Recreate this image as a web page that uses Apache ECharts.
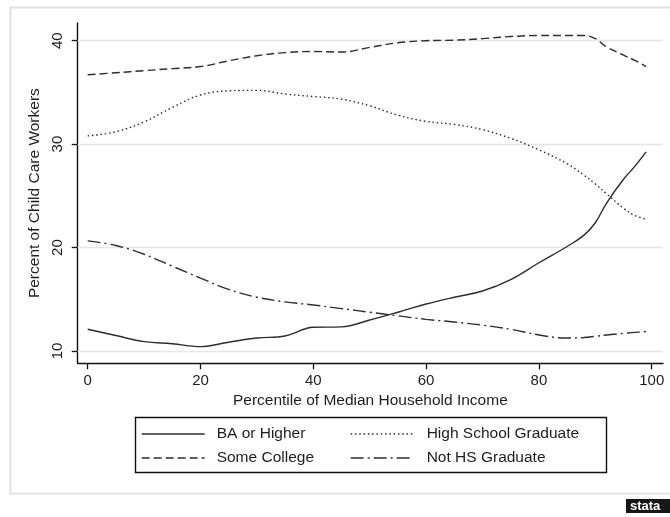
<!DOCTYPE html>
<html>
<head>
<meta charset="utf-8">
<script src="https://cdn.jsdelivr.net/npm/echarts@6/dist/echarts.min.js"></script>
<style>
  html, body { margin: 0; padding: 0; background: #ffffff; }
  #chart { width: 670px; height: 517px; }
</style>
</head>
<body>
<div id="chart"></div>
<script>
// Smoothed share of child care workers by education, across income percentiles
const percentiles = [0, 5, 10, 15, 20, 25, 30, 35, 40, 45, 50, 55, 60, 65, 70, 75, 80, 85, 88, 90, 92, 95, 97, 99];

const baOrHigher   = [12.1, 11.5, 10.9, 10.7, 10.42, 10.85, 11.25, 11.45, 12.29, 12.33, 13.0, 13.75, 14.54, 15.2, 15.8, 16.9, 18.53, 20.1, 21.2, 22.4, 24.3, 26.6, 27.85, 29.25];
const someCollege  = [36.7, 36.9, 37.1, 37.3, 37.5, 38.05, 38.55, 38.85, 38.95, 38.9, 39.35, 39.8, 40.0, 40.05, 40.2, 40.4, 40.5, 40.5, 40.5, 40.2, 39.4, 38.6, 38.1, 37.5];
const hsGraduate   = [30.8, 31.2, 32.15, 33.55, 34.75, 35.15, 35.2, 34.85, 34.6, 34.35, 33.7, 32.8, 32.2, 31.9, 31.4, 30.55, 29.45, 28.1, 27.0, 26.15, 25.2, 23.8, 23.1, 22.75];
const notHsGrad    = [20.65, 20.2, 19.35, 18.2, 17.05, 15.95, 15.2, 14.75, 14.45, 14.1, 13.75, 13.4, 13.06, 12.8, 12.5, 12.1, 11.55, 11.25, 11.3, 11.42, 11.55, 11.7, 11.8, 11.88];

const seriesNames = ['BA or Higher', 'High School Graduate', 'Some College', 'Not HS Graduate'];
const xTicks = [0, 20, 40, 60, 80, 100];
const yTicks = [10, 20, 30, 40];

const FONT = '"Liberation Sans", Arial, sans-serif';
const INK = '#1e1e1e';
const LINE = '#2e2e2e';

function pairs(values) {
  return percentiles.map((p, i) => [p, values[i]]);
}

function lineSeries(name, values, type) {
  return {
    name: name,
    type: 'line',
    data: pairs(values),
    showSymbol: false,
    symbol: 'none',
    smooth: 0.4,
    z: 3,
    lineStyle: { color: LINE, width: 1.4, type: type },
    itemStyle: { color: LINE },
    emphasis: { disabled: true }
  };
}

// two legend columns share the same look
function legendColumn(names, left, textGap) {
  return {
    data: names,
    orient: 'vertical',
    left: left,
    top: 426,
    padding: 0,
    itemWidth: 63,
    itemHeight: 14,
    itemGap: 8,
    selectedMode: false,
    itemStyle: { opacity: 0, borderWidth: 0 },
    lineStyle: { width: 1.3 },
    textStyle: { fontFamily: FONT, fontSize: 15.5, color: INK, lineHeight: 14, padding: [0, 0, 0, textGap] }
  };
}

const chart = echarts.init(document.getElementById('chart'), null, { renderer: 'canvas' });

chart.setOption({
  animation: false,
  backgroundColor: '#ffffff',
  textStyle: { fontFamily: FONT },
  grid: { left: 77.7, right: 7, top: 23, bottom: 153.7, containLabel: false },
  xAxis: {
    type: 'value',
    min: -1.77,
    max: 102,
    name: 'Percentile of Median Household Income',
    nameLocation: 'middle',
    nameGap: 23,
    nameTextStyle: { fontFamily: FONT, fontSize: 15.5, color: INK, verticalAlign: 'top' },
    axisLine: { onZero: false, lineStyle: { color: '#111', width: 1.4 } },
    axisTick: { show: true, length: 6, customValues: xTicks, lineStyle: { color: '#111', width: 1.3 } },
    axisLabel: { customValues: xTicks, margin: 10, fontFamily: FONT, fontSize: 15, color: INK },
    splitLine: { show: false }
  },
  yAxis: {
    type: 'value',
    min: 8.81,
    max: 41.71,
    name: 'Percent of Child Care Workers',
    nameLocation: 'middle',
    nameGap: 28,
    nameTextStyle: { fontFamily: FONT, fontSize: 15.5, color: INK },
    axisLine: { show: true, onZero: false, lineStyle: { color: '#111', width: 1.4 } },
    axisTick: { show: true, length: 6, customValues: yTicks, lineStyle: { color: '#111', width: 1.3 } },
    axisLabel: { customValues: yTicks, rotate: 90, margin: 12, fontFamily: FONT, fontSize: 15, color: INK },
    splitLine: { show: false }
  },
  legend: [
    legendColumn([seriesNames[0], seriesNames[2]], 141, 7),
    legendColumn([seriesNames[1], seriesNames[3]], 350, 8)
  ],
  graphic: [
    {
      type: 'rect',
      silent: true,
      z: -10,
      shape: { x: 10.5, y: 7.5, width: 700, height: 486 },
      style: { fill: 'none', stroke: '#e2e2e2', lineWidth: 2 }
    },
    {
      type: 'rect',
      silent: true,
      shape: { x: 135.5, y: 417.5, width: 471, height: 55 },
      style: { fill: 'none', stroke: '#111', lineWidth: 1.4 }
    },
    {
      type: 'group',
      left: 626,
      top: 499,
      silent: true,
      children: [
        { type: 'rect', shape: { x: 0, y: 0, width: 50, height: 14 }, style: { fill: '#161616' } },
        { type: 'text', x: 4, y: 1, style: { text: 'stata', fill: '#ffffff', font: 'bold 13px "Liberation Sans", Arial, sans-serif' } }
      ]
    }
  ],
  series: [
    Object.assign(lineSeries(seriesNames[0], baOrHigher, 'solid'), {
      markLine: {
        silent: true,
        z: 1,
        symbol: ['none', 'none'],
        label: { show: false },
        emphasis: { disabled: true },
        lineStyle: { color: '#e6e6e6', width: 1.4, type: 'solid' },
        data: yTicks.map(v => ({ yAxis: v }))
      }
    }),
    lineSeries(seriesNames[1], hsGraduate, [1.5, 2.8]),
    lineSeries(seriesNames[2], someCollege, [8, 4]),
    lineSeries(seriesNames[3], notHsGrad, [13, 4, 2, 4])
  ]
});
</script>
</body>
</html>
